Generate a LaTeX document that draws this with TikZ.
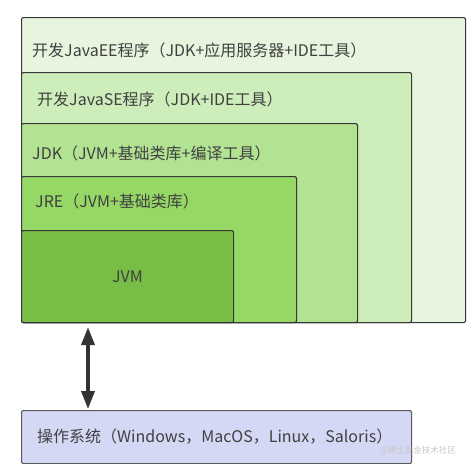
\documentclass[tikz,border=0pt]{standalone}
\usepackage{fontspec}
\setmainfont{Noto Sans CJK SC}
\usetikzlibrary{arrows.meta}

\definecolor{eeGreen}{HTML}{E7F5DE}
\definecolor{seGreen}{HTML}{CDEDBA}
\definecolor{jdkGreen}{HTML}{B2E393}
\definecolor{jreGreen}{HTML}{96D865}
\definecolor{jvmGreen}{HTML}{78BE46}
\definecolor{osBlue}{HTML}{D5D8F5}

\tikzset{
  layer/.style={draw=black!78, line width=1.1pt, rounded corners=2pt,
    anchor=north west, inner sep=0pt},
  caption/.style={anchor=west, inner sep=0pt, text=black!75,
    font=\fontsize{16}{19}\selectfont},
  link/.style={draw=black!80, line width=3.6pt,
    {Triangle[length=18pt,width=13pt]}-{Triangle[length=18pt,width=13pt]}}
}

\begin{document}
\begin{tikzpicture}[x=1pt,y=-1pt]
    \useasboundingbox (0,0) rectangle (475,464);
    % nested layers, all sharing the bottom edge
    \draw (21,17) node(EE) [layer, fill=eeGreen,
        minimum width=444pt, minimum height=305pt] {};
    \draw (21,72) node(SE) [layer, fill=seGreen,
        minimum width=390pt, minimum height=250pt] {};
    \draw (21,123) node(JDK) [layer, fill=jdkGreen,
        minimum width=336pt, minimum height=199pt] {};
    \draw (21,176) node(JRE) [layer, fill=jreGreen,
        minimum width=275pt, minimum height=146pt] {};
    \draw (21,230) node(JVM) [layer, fill=jvmGreen,
        minimum width=212pt, minimum height=92pt] {};
    \draw (21,410) node(OS) [layer, fill=osBlue, draw=black!65,
        minimum width=390pt, minimum height=53pt] {};
    % captions
    \draw (32,50) node(EEtext) [caption] {开发JavaEE程序（JDK+应用服务器+IDE工具）};
    \draw (37,99) node(SEtext) [caption] {开发JavaSE程序（JDK+IDE工具）};
    \draw (32,153) node(JDKtext) [caption] {JDK（JVM+基础类库+编译工具）};
    \draw (35,201) node(JREtext) [caption] {JRE（JVM+基础类库）};
    \node (JVMtext) [caption, anchor=center] at (JVM.center) {JVM};
    \draw (37,437) node(OStext) [caption] {操作系统（Windows，MacOS，Linux，Saloris）};
    \node (mark) [anchor=east, text=black!22, inner sep=0pt,
        font=\fontsize{8.5}{10}\selectfont] at (456,451) {@稀土掘金技术社区};
    % JVM <-> OS
    \coordinate (axis) at (88,0);
    \draw[link, shorten <=4pt, shorten >=1pt] (JVM.south -| axis) -- (OS.north -| axis);
\end{tikzpicture}
\end{document}
